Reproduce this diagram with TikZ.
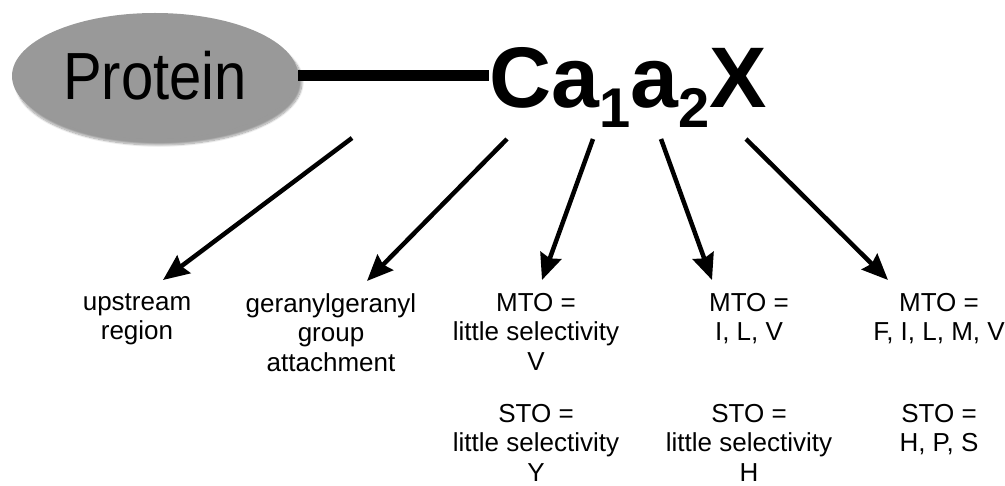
\documentclass[tikz,border=0pt]{standalone}
\usepackage{fontspec}
\setmainfont{Liberation Sans}
\usetikzlibrary{arrows.meta,shapes.geometric,shadows.blur}

\newcommand{\subnum}[1]{\raisebox{-20pt}{\fontsize{56}{56}\selectfont #1}}

\begin{document}
\begin{tikzpicture}[x=1pt,y=-1pt,
  lbl/.style={align=center,inner sep=0pt,anchor=north,font=\fontsize{26}{29.5}\selectfont},
  arr/.style={line width=4.5pt,-{Stealth[length=26pt,width=22pt,inset=3pt]}}]
\useasboundingbox (0,0) rectangle (1005,486);

% protein and the motif
\node (prot) [ellipse,fill=black!40,inner sep=0pt,minimum width=286pt,minimum height=126pt,
  blur shadow={shadow xshift=4pt,shadow yshift=-6pt,shadow blur steps=12}] at (155,76)
  {\fontsize{58}{58}\selectfont\scalebox{1}[1.15]{Protein}};
\node (motif) [anchor=base west,inner sep=0pt,font=\bfseries\fontsize{86}{86}\selectfont] at (489,108)
  {Ca\subnum{1}a\subnum{2}X};
\draw[line width=11pt] (prot.east) -- (prot.east -| motif.west);

% what each position means
\node (up)   [lbl] at (137,293) {upstream\\region};
\node (gg)   [lbl] at (331,293) {geranylgeranyl\\group\\attachment};
\node (mtoA) [lbl] at (536,293) {MTO =\\little selectivity\\V};
\node (mtoB) [lbl] at (749,293) {MTO =\\I, L, V};
\node (mtoC) [lbl] at (939,293) {MTO =\\F, I, L, M, V};
\node (stoA) [lbl] at (536,404) {STO =\\little selectivity\\Y};
\node (stoB) [lbl] at (749,404) {STO =\\little selectivity\\H};
\node (stoC) [lbl] at (939,404) {STO =\\H, P, S};

% arrows
\coordinate (s1) at (352,138); \coordinate (e1) at (163,280);
\coordinate (s2) at (507,139); \coordinate (e2) at (367,281);
\coordinate (s3) at (593,139); \coordinate (e3) at (542,280);
\coordinate (s4) at (661,139); \coordinate (e4) at (712,280);
\coordinate (s5) at (746,139); \coordinate (e5) at (888,280);
\foreach \i in {1,...,5} \draw[arr] (s\i) -- (e\i);
\end{tikzpicture}
\end{document}
